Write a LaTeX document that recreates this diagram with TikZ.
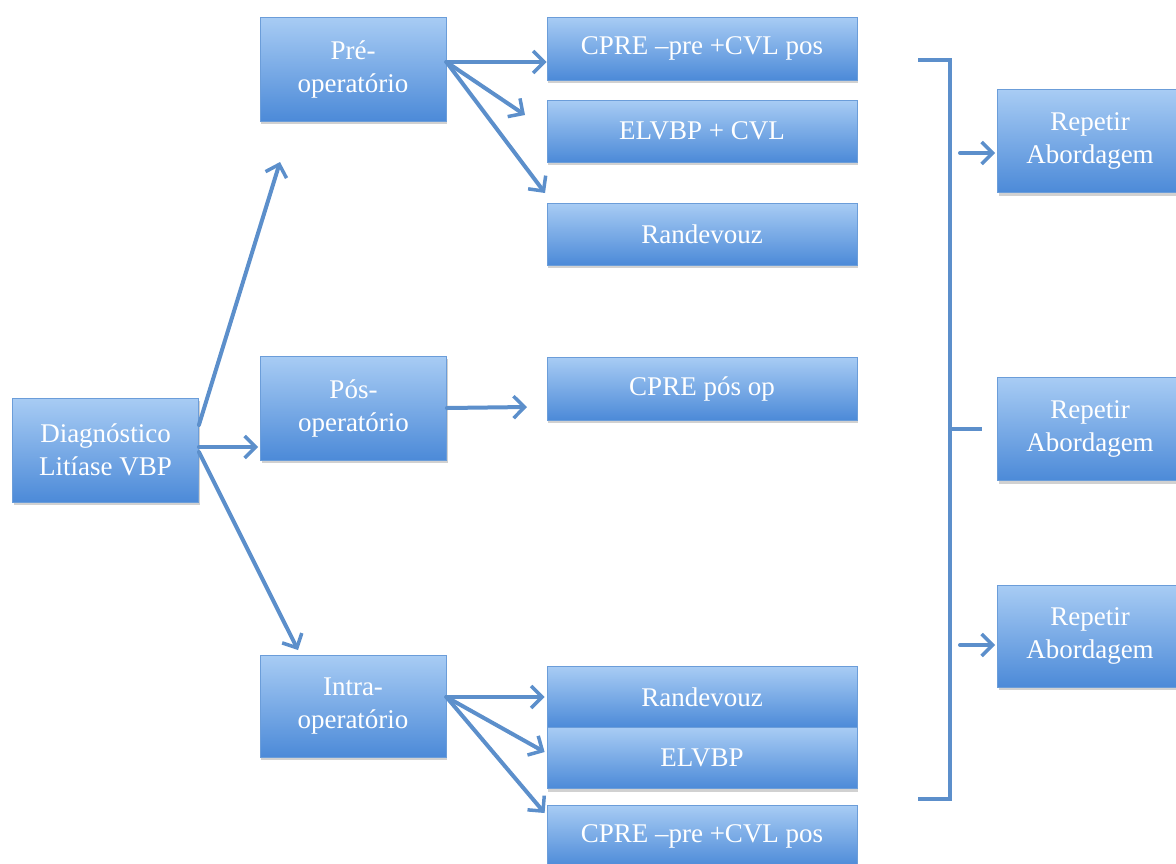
\documentclass[tikz,border=0pt]{standalone}
\usepackage{fontspec}
\setmainfont{Liberation Serif}
\usetikzlibrary{arrows.meta,shadows}
\definecolor{linecol}{HTML}{5C8FCB}
\definecolor{boxtop}{HTML}{A8CCF4}
\definecolor{boxbot}{HTML}{4C8AD8}
\definecolor{boxline}{HTML}{6B9DD9}
\tikzset{
  box/.style={rectangle, draw=boxline, line width=0.8pt, top color=boxtop, bottom color=boxbot,
    text=white, align=center, inner sep=2pt,
    font=\fontsize{27}{33}\selectfont,
    drop shadow={shadow xshift=1pt, shadow yshift=-3pt, opacity=0.3, fill=black!60}},
  bigbox/.style={box, minimum width=186pt, minimum height=104pt},
  smallbox/.style={box, minimum width=310pt, minimum height=62pt},
  conn/.style={draw=linecol, line width=4pt, line cap=round,
    -{Straight Barb[length=11pt,width=22pt,line width=3.5pt]}},
  plain/.style={draw=linecol, line width=4pt}
}
\begin{document}
\begin{tikzpicture}[x=1pt,y=-1pt]
\useasboundingbox (0,0) rectangle (1176,863);
% left column
\node[bigbox] (diag) at (105.5,450) {Diagnóstico\\Litíase VBP};
\node[bigbox] (pre) at (353,69) {Pré-\\operatório};
\node[bigbox] (pos) at (353.5,408) {Pós-\\operatório};
\node[bigbox, minimum height=102pt] (intra) at (353,706) {Intra-\\operatório};
% middle column
\node[smallbox, minimum height=63pt] (c1) at (702,48.5) {CPRE –pre +CVL pos};
\node[smallbox] (e1) at (702,131) {ELVBP + CVL};
\node[smallbox] (r1) at (702,234) {Randevouz};
\node[smallbox, minimum height=63pt] (cp) at (702,388.5) {CPRE pós op};
\node[smallbox, minimum height=61pt] (r2) at (702,697) {Randevouz};
\node[smallbox, minimum height=61pt] (e2) at (702,758) {ELVBP};
\node[smallbox] (c2) at (702,836) {CPRE –pre +CVL pos};
% right column
\node[bigbox, minimum width=185pt, minimum height=103pt] (rep1) at (1090,141) {Repetir\\Abordagem};
\node[bigbox, minimum width=185pt, minimum height=103pt] (rep2) at (1090,429) {Repetir\\Abordagem};
\node[bigbox, minimum width=185pt, minimum height=102pt] (rep3) at (1090,636) {Repetir\\Abordagem};
% free ends
\coordinate (a1) at (280,162);
\coordinate (a3) at (298,650);
\coordinate (p2) at (525,115);
\coordinate (p3) at (545,193);
\coordinate (q1) at (527,407);
\coordinate (bt1) at (918,60);
\coordinate (bt2) at (950,60);
\coordinate (bb1) at (918,799);
\coordinate (bb2) at (950,799);
\coordinate (bm) at (950,429);
\coordinate (bm2) at (982,429);
\coordinate (s1) at (960,153);
\coordinate (s3) at (960,645);
% connectors from diagnosis
\draw[conn] ([yshift=25pt]diag.east) -- (a1);
\draw[conn] ([yshift=3pt]diag.east) -- ([yshift=-39pt,xshift=-2pt]pos.west);
\draw[conn] ([yshift=-2pt]diag.east) -- (a3);
% pre-operatorio
\draw[conn] ([yshift=7pt]pre.east) -- ([yshift=-13.5pt]c1.west);
\draw[conn] ([yshift=7pt]pre.east) -- (p2);
\draw[conn] ([yshift=7pt]pre.east) -- (p3);
% pos-operatorio
\draw[conn] (pos.east) -- (q1);
% intra-operatorio
\draw[conn] ([yshift=9pt]intra.east) -- ([xshift=-2pt]r2.west);
\draw[conn] ([yshift=9pt]intra.east) -- ([yshift=6pt,xshift=-2pt]e2.west);
\draw[conn] ([yshift=9pt]intra.east) -- ([yshift=23pt,xshift=-2pt]c2.west);
% bracket
\draw[plain] (bt1) -- (bt2) -- (bb2) -- (bb1);
\draw[plain] (bm) -- (bm2);
\draw[conn] (s1) -- ([yshift=-12pt,xshift=-2pt]rep1.west);
\draw[conn] (s3) -- ([yshift=-9pt,xshift=-2pt]rep3.west);
\end{tikzpicture}
\end{document}
